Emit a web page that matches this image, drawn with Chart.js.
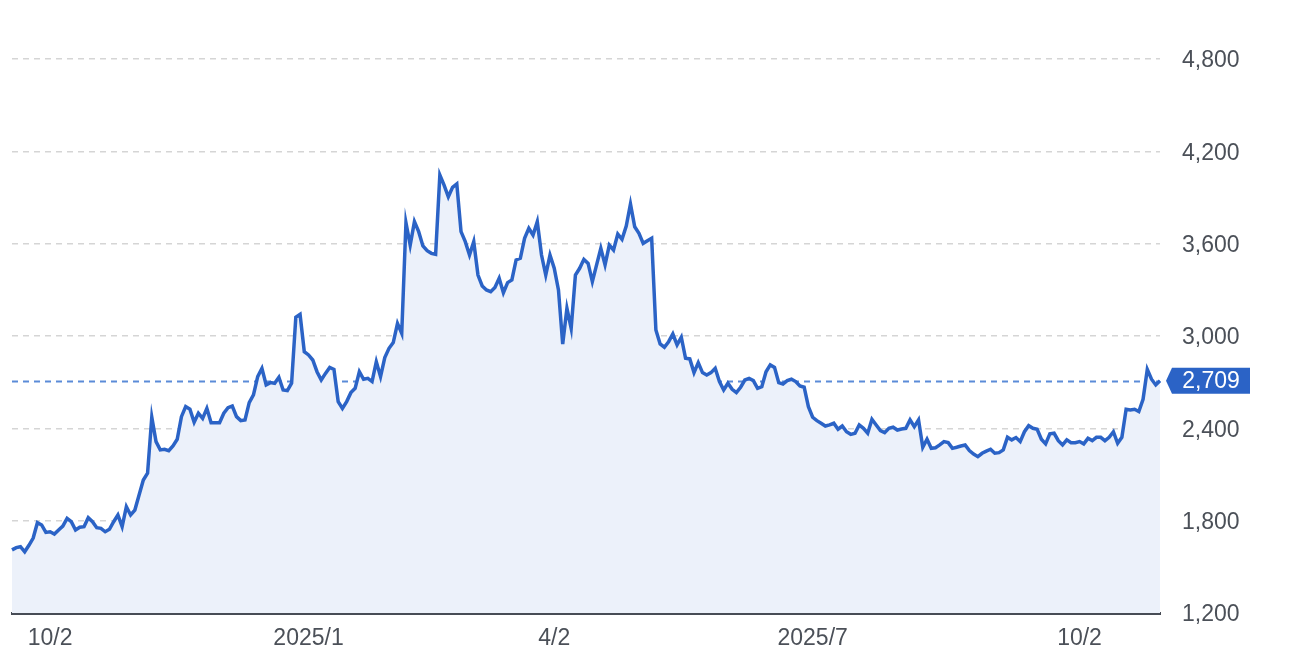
<!DOCTYPE html>
<html>
<head>
<meta charset="utf-8">
<script src="https://cdn.jsdelivr.net/npm/chart.js@4.4.1/dist/chart.umd.min.js"></script>
<style>
  html, body { margin: 0; padding: 0; background: #fff; }
  #wrap { width: 1296px; height: 670px; }
</style>
</head>
<body>
<div id="wrap"><canvas id="priceChart"></canvas></div>
<script>
// daily closes
const prices = [
  1610, 1625, 1631, 1598, 1640, 1687, 1787, 1772, 1724, 1728,
  1713, 1740, 1765, 1815, 1793, 1739, 1757, 1761, 1819, 1793,
  1754, 1750, 1728, 1744, 1793, 1837, 1761, 1891, 1837, 1869,
  1967, 2064, 2108, 2472, 2314, 2260, 2264, 2255, 2286, 2329,
  2476, 2541, 2524, 2440, 2498, 2465, 2530, 2437, 2437, 2437,
  2498, 2534, 2545, 2476, 2450, 2455, 2567, 2617, 2736, 2790,
  2682, 2697, 2693, 2732, 2649, 2645, 2693, 3122, 3141, 2898,
  2877, 2844, 2768, 2714, 2757, 2796, 2783, 2574, 2530, 2574,
  2632, 2660, 2768, 2719, 2725, 2704, 2833, 2736, 2860, 2920,
  2957, 3082, 3017, 3736, 3591, 3743, 3678, 3585, 3554, 3537,
  3531, 4046, 3981, 3905, 3966, 3988, 3678, 3613, 3526, 3613,
  3396, 3325, 3299, 3288, 3316, 3375, 3281, 3347, 3364, 3494,
  3505, 3635, 3700, 3656, 3743, 3526, 3396, 3526, 3440, 3299,
  2948, 3180, 3050, 3396, 3440, 3498, 3472, 3353, 3462, 3570,
  3462, 3591, 3559, 3663, 3628, 3714, 3858, 3710, 3667, 3602,
  3619, 3635, 3039, 2948, 2927, 2963, 3013, 2942, 2992, 2855,
  2851, 2762, 2827, 2762, 2747, 2762, 2790, 2704, 2649, 2693,
  2654, 2632, 2667, 2714, 2725, 2710, 2660, 2671, 2768, 2812,
  2796, 2697, 2688, 2710, 2719, 2704, 2675, 2667, 2541, 2472,
  2450, 2433, 2415, 2422, 2433, 2394, 2415, 2378, 2361, 2368,
  2422, 2400, 2368, 2459, 2422, 2385, 2372, 2400, 2407, 2389,
  2396, 2400, 2455, 2411, 2455, 2277, 2329, 2270, 2274, 2292,
  2314, 2307, 2270, 2277, 2285, 2292, 2255, 2233, 2216, 2238,
  2252, 2264, 2238, 2242, 2260, 2342, 2325, 2340, 2314, 2378,
  2417, 2400, 2394, 2329, 2299, 2364, 2368, 2320, 2292, 2325,
  2307, 2307, 2314, 2299, 2335, 2320, 2342, 2342, 2320, 2342,
  2378, 2303, 2342, 2524, 2519, 2524, 2509, 2589, 2783, 2719,
  2682, 2709
];
const days = prices.map((p, i) => i);

// x labels and the trading day they sit on
const tickDays = [9, 70, 128, 189, 252];
const tickText = ['10/2', '2025/1', '4/2', '2025/7', '10/2'];

const yMin = 1200;
const yMax = 4800;
const yStep = 600;

const lastPrice = prices[prices.length - 1];

const textColor = '#4b5058';
const lineBlue = '#2b63c6';
const font = { family: 'Liberation Sans, Arial, sans-serif', size: 23 };

const lastPriceLine = {
  id: 'lastPriceLine',
  beforeDatasetsDraw(chart) {
    const { ctx, chartArea, scales: { y } } = chart;
    const py = Math.round(y.getPixelForValue(lastPrice)) + 0.5;
    ctx.save();
    ctx.strokeStyle = '#5b8bd8';
    ctx.lineWidth = 2;
    ctx.setLineDash([6, 5]);
    ctx.beginPath();
    ctx.moveTo(chartArea.left, py);
    ctx.lineTo(chartArea.right, py);
    ctx.stroke();
    ctx.restore();
  },
  afterDraw(chart) {
    const { ctx, chartArea, scales: { y } } = chart;
    const py = y.getPixelForValue(lastPrice);
    const tip = chartArea.right + 6;
    const left = chartArea.right + 12;
    const w = 78, h = 26;
    ctx.save();
    ctx.fillStyle = lineBlue;
    ctx.beginPath();
    ctx.moveTo(tip, py);
    ctx.lineTo(left, py - h / 2);
    ctx.lineTo(left + w, py - h / 2);
    ctx.lineTo(left + w, py + h / 2);
    ctx.lineTo(left, py + h / 2);
    ctx.closePath();
    ctx.fill();
    ctx.fillStyle = '#fff';
    ctx.font = `${font.size}px ${font.family}`;
    ctx.textAlign = 'center';
    ctx.textBaseline = 'middle';
    ctx.fillText(lastPrice.toLocaleString('en-US'), left + w / 2, py + 1);
    ctx.restore();
  }
};

new Chart(document.getElementById('priceChart'), {
  type: 'line',
  data: {
    labels: days,
    datasets: [{
      data: prices,
      borderColor: lineBlue,
      borderWidth: 3.5,
      backgroundColor: '#ecf1fa',
      fill: 'start',
      pointRadius: 0,
      tension: 0
    }]
  },
  options: {
    responsive: true,
    maintainAspectRatio: false,
    animation: false,
    layout: {
      padding: { top: 59, left: 12, right: 0, bottom: 0 }
    },
    plugins: {
      legend: { display: false },
      tooltip: { enabled: false }
    },
    scales: {
      x: {
        grid: { display: false, drawTicks: false },
        border: { display: true, color: '#474c55', width: 3 },
        afterFit(scale) { scale.height = 57; },
        ticks: {
          autoSkip: false,
          maxRotation: 0,
          padding: 12,
          color: textColor,
          font: font,
          callback(value, index) {
            const k = tickDays.indexOf(index);
            return k >= 0 ? tickText[k] : '';
          }
        }
      },
      y: {
        position: 'right',
        min: yMin,
        max: yMax,
        afterFit(scale) { scale.width = 136; },
        grid: {
          color: '#d5d5d5',
          lineWidth: 1.5,
          drawTicks: false
        },
        border: { display: false, dash: [6, 5] },
        ticks: {
          stepSize: yStep,
          padding: 22,
          labelOffset: 2,
          color: textColor,
          font: font,
          callback: v => v.toLocaleString('en-US')
        }
      }
    }
  },
  plugins: [lastPriceLine]
});
</script>
</body>
</html>
